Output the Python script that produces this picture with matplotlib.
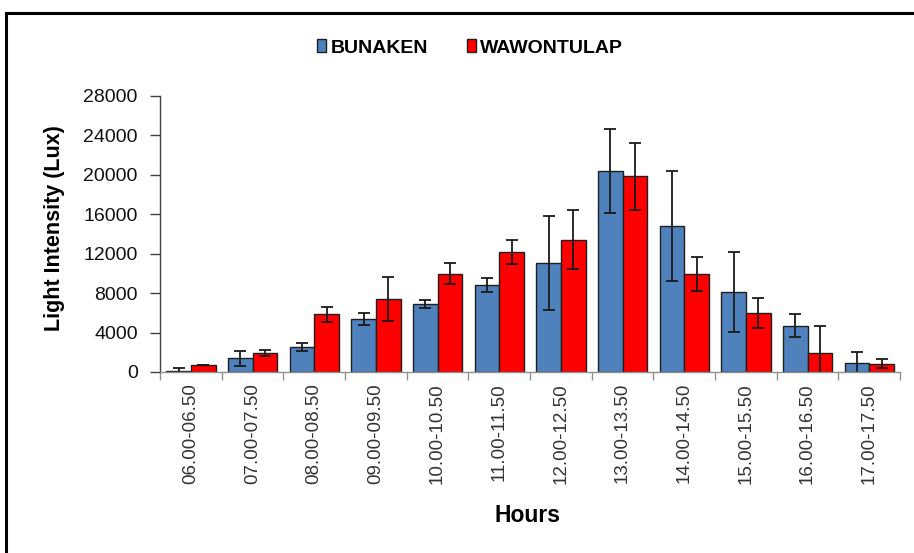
import matplotlib
matplotlib.use("Agg")
import matplotlib.pyplot as plt
import numpy as np
from matplotlib.lines import Line2D
from matplotlib.ticker import FixedLocator, NullFormatter

plt.rcParams['font.family'] = ['Liberation Sans', 'DejaVu Sans']

categories = ["06.00-06.50", "07.00-07.50", "08.00-08.50", "09.00-09.50",
              "10.00-10.50", "11.00-11.50", "12.00-12.50", "13.00-13.50",
              "14.00-14.50", "15.00-15.50", "16.00-16.50", "17.00-17.50"]
bunaken = [80, 1390, 2500, 5370, 6880, 8780, 11030, 20420, 14780, 8140, 4700, 950]
bunaken_err = [320, 750, 420, 640, 400, 710, 4770, 4270, 5580, 4050, 1150, 1040]
wawontulap = [750, 1960, 5840, 7390, 9960, 12190, 13400, 19880, 9920, 5970, 1960, 850]
wawontulap_err = [0, 300, 760, 2200, 1080, 1250, 3000, 3400, 1730, 1540, 2740, 430]
yticks = [0, 4000, 8000, 12000, 16000, 20000, 24000, 28000]

fig = plt.figure(figsize=(9.14, 5.53), dpi=100)
ax = fig.add_axes([160/914, 1-372/553, 740/914, 276/553])

x = np.arange(len(categories))
w = 0.4
err_kw = dict(ecolor='#1a1a1a', elinewidth=1.3, capsize=4.5, capthick=1.3)
b1 = ax.bar(x - w/2, bunaken, w, color='#4F81BD', edgecolor='#1f1f1f', linewidth=1.0,
            yerr=bunaken_err, error_kw=err_kw, label='BUNAKEN')
b2 = ax.bar(x + w/2, wawontulap, w, color='#FF0000', edgecolor='#1f1f1f', linewidth=1.0,
            yerr=wawontulap_err, error_kw=err_kw, label='WAWONTULAP')

ax.set_xlim(-0.5, len(categories) - 0.5)
ax.set_ylim(0, 28000)
ax.set_yticks(yticks)
ax.set_yticklabels([str(v) for v in yticks], fontsize=14, color='#111111')
ax.set_xticks(x)
ax.set_xticklabels(categories, rotation=90, fontsize=13.5, color='#333333')
ax.xaxis.set_minor_locator(FixedLocator(np.arange(-0.5, len(categories), 1.0)))
ax.xaxis.set_minor_formatter(NullFormatter())
ax.tick_params(axis='x', which='major', length=0, pad=8)
ax.tick_params(axis='x', which='minor', length=6, width=1, color='#909090', direction='out')
ax.tick_params(axis='y', which='major', length=7, width=1, color='#404040', direction='out', pad=9)

for s in ['top', 'right']:
    ax.spines[s].set_visible(False)
ax.spines['left'].set_color('#404040')
ax.spines['bottom'].set_color('#909090')
ax.spines['left'].set_linewidth(1.0)
ax.spines['bottom'].set_linewidth(1.0)

ax.set_ylabel('Light Intensity (Lux)', fontsize=15.5, fontweight='bold')
ax.yaxis.set_label_coords(-0.128, 0.52)
fig.text(528/914, 1-516/553, 'Hours', fontsize=16.5, fontweight='bold', ha='center', va='center')

fig.legend(handles=[b1, b2], labels=['BUNAKEN', 'WAWONTULAP'], loc='center',
           bbox_to_anchor=(470/914, 1-48/553), ncol=2, frameon=False,
           prop={'size': 14, 'weight': 'bold'}, handlelength=0.5, handleheight=0.6,
           handletextpad=0.2, columnspacing=2.0)

top = 1 - 13/553
left = 6/914
fig.add_artist(Line2D([left, 1.0], [top, top], transform=fig.transFigure,
                      color='black', linewidth=2.2, solid_capstyle='projecting'))
fig.add_artist(Line2D([left, left], [0.0, top], transform=fig.transFigure,
                      color='black', linewidth=2.2, solid_capstyle='projecting'))

fig.savefig('out.png', dpi=100)
